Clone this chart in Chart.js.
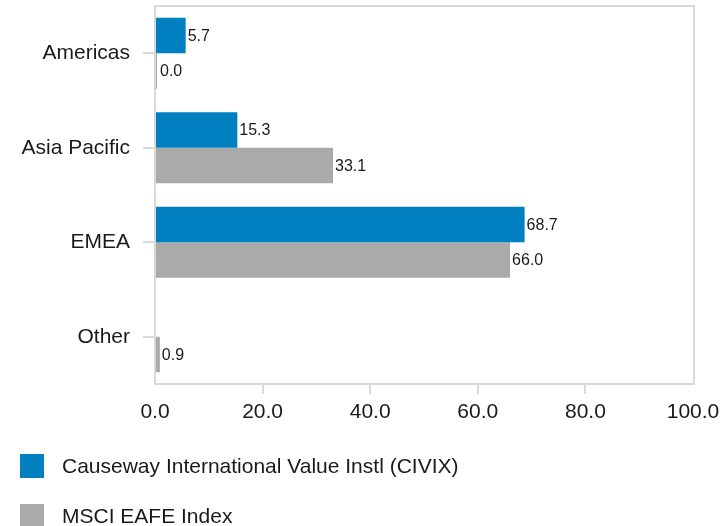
<!DOCTYPE html>
<html>
<head>
<meta charset="utf-8">
<script src="https://cdn.jsdelivr.net/npm/chart.js@4.4.1/dist/chart.umd.min.js"></script>
<style>
  html, body { margin: 0; padding: 0; background: #fff; }
  #wrap { position: relative; width: 721px; height: 526px; overflow: hidden; }
  #c { position: absolute; left: 0; top: 0; }
  #legend { position: absolute; left: 20px; top: 454px; font-family: "Liberation Sans", Arial, sans-serif; font-size: 21px; color: #1a1a1a; }
  .item { position: relative; height: 50px; }
  .box { position: absolute; left: 0; top: 0; width: 24px; height: 24px; }
  .lbl { position: absolute; left: 42px; top: 0; line-height: 24px; white-space: nowrap; }
</style>
</head>
<body>
<div id="wrap">
  <canvas id="c" width="721" height="526"></canvas>
  <div id="legend"></div>
</div>
<script>
const categories = ["Americas", "Asia Pacific", "EMEA", "Other"];
const fundLabel = "Causeway International Value Instl (CIVIX)";
const indexLabel = "MSCI EAFE Index";
const fundValues = [5.7, 15.3, 68.7, null];
const indexValues = [0.0, 33.1, 66.0, 0.9];
const xTicks = [0, 20, 40, 60, 80, 100];

const FONT = "'Liberation Sans', Arial, sans-serif";
const BLUE = "#0080c1";
const GRAY = "#aaaaaa";
const LINE = "#d9d9d9";

const frame = {
  id: 'frame',
  afterDraw(chart) {
    const a = chart.chartArea, ctx = chart.ctx;
    ctx.save();
    ctx.strokeStyle = LINE;
    ctx.lineWidth = 2;
    ctx.strokeRect(a.left, a.top, a.right - a.left + 1, a.bottom - a.top);
    ctx.restore();
  }
};

const valueLabels = {
  id: 'valueLabels',
  afterDatasetsDraw(chart) {
    const ctx = chart.ctx;
    ctx.save();
    ctx.font = "16px " + FONT;
    ctx.fillStyle = "#1a1a1a";
    ctx.textBaseline = "middle";
    ctx.textAlign = "left";
    chart.data.datasets.forEach((ds, i) => {
      const meta = chart.getDatasetMeta(i);
      meta.data.forEach((el, j) => {
        const v = ds.data[j];
        if (v === null || v === undefined) return;
        const p = el.getProps(['x', 'y', 'base'], true);
        const end = Math.max(p.x, p.base + 2);
        ctx.fillText(v.toFixed(1), end + 2, p.y + 1);
      });
    });
    ctx.restore();
  }
};

const chart = new Chart(document.getElementById('c'), {
  type: 'bar',
  data: {
    labels: categories,
    datasets: [
      { label: fundLabel, data: fundValues, backgroundColor: BLUE, minBarLength: 2 },
      { label: indexLabel, data: indexValues, backgroundColor: GRAY, minBarLength: 2 }
    ]
  },
  plugins: [frame, valueLabels],
  options: {
    indexAxis: 'y',
    responsive: false,
    animation: false,
    devicePixelRatio: 1,
    layout: { padding: { left: 0, right: 28, top: 6, bottom: 97 } },
    datasets: { bar: { categoryPercentage: 0.75, barPercentage: 1.0 } },
    plugins: { legend: { display: false }, tooltip: { enabled: false } },
    scales: {
      x: {
        min: 0, max: 100,
        afterBuildTicks(scale) { scale.ticks = xTicks.map(v => ({ value: v })); },
        afterFit(scale) { scale.height = 45; scale.paddingLeft = 0; scale.paddingRight = 0; },
        ticks: {
          font: { family: FONT, size: 21 }, color: "#1a1a1a", padding: 6,
          maxRotation: 0,
          callback: v => Number(v).toFixed(1)
        },
        grid: {
          drawOnChartArea: false, drawTicks: true, tickLength: 10, lineWidth: 2,
          color: ctx => (ctx.tick && (ctx.tick.value === 0 || ctx.tick.value === 100)) ? 'rgba(0,0,0,0)' : LINE
        },
        border: { display: false }
      },
      y: {
        afterFit(scale) { scale.width = 155; scale.paddingTop = 0; scale.paddingBottom = 0; },
        ticks: { font: { family: FONT, size: 21 }, color: "#1a1a1a", padding: 13 },
        grid: { offset: false, drawOnChartArea: false, drawTicks: true, tickLength: 12, color: LINE, lineWidth: 2 },
        border: { display: false }
      }
    }
  }
});

const legend = document.getElementById('legend');
chart.data.datasets.forEach(ds => {
  const item = document.createElement('div');
  item.className = 'item';
  const box = document.createElement('div');
  box.className = 'box';
  box.style.background = ds.backgroundColor;
  const lbl = document.createElement('div');
  lbl.className = 'lbl';
  lbl.textContent = ds.label;
  item.appendChild(box);
  item.appendChild(lbl);
  legend.appendChild(item);
});
</script>
</body>
</html>
